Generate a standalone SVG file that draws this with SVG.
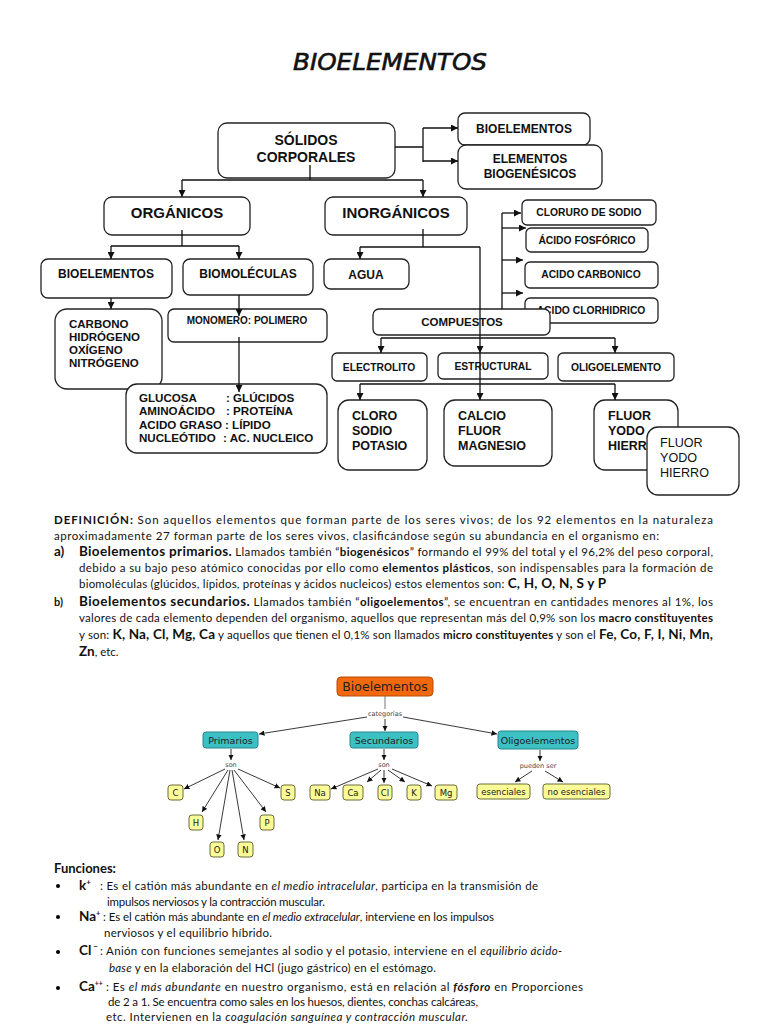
<svg xmlns="http://www.w3.org/2000/svg" width="768" height="1024" viewBox="0 0 768 1024">
<defs>
<style>
.bx{fill:#fff;stroke:#222;stroke-width:1.3}
.t{font-family:"Liberation Sans",Arial,sans-serif;font-weight:bold;fill:#111}
.tr{font-family:"Liberation Sans",Arial,sans-serif;fill:#111}
.c{stroke:#111;stroke-width:1.3;fill:none}
.ca{stroke:#111;stroke-width:1.3;fill:none;marker-end:url(#ah)}
.b{font-family:Lato,"Liberation Sans",sans-serif;font-size:11.5px;fill:#111}
.bb{font-weight:bold}
.big{font-weight:bold;font-size:13.5px}
.it{font-style:italic}
.cm{stroke:#222;stroke-width:0.9;fill:none;marker-end:url(#sa)}
.cl{font-family:"DejaVu Sans",Verdana,sans-serif;font-size:6.5px;fill:#444}
.teal{fill:#3cc0c4;stroke:#25888c;stroke-width:1}
.yel{fill:#fbfb98;stroke:#6d6d3a;stroke-width:1}
.ct{font-family:"DejaVu Sans",Verdana,sans-serif;fill:#222}
</style>
<marker id="ah" viewBox="0 0 10 10" refX="10" refY="5" markerWidth="7" markerHeight="7" orient="auto" markerUnits="userSpaceOnUse"><path d="M0,0 L10,5 L0,10 z" fill="#111"/></marker>
<marker id="sa" viewBox="0 0 10 10" refX="10" refY="5" markerWidth="5.5" markerHeight="5.5" orient="auto" markerUnits="userSpaceOnUse"><path d="M0,0 L10,5 L0,10 z" fill="#111"/></marker>
</defs>
<rect width="768" height="1024" fill="#fff"/>

<text x="390" y="70" text-anchor="middle" font-family="'DejaVu Sans',sans-serif" font-style="italic" font-size="23" fill="#111" stroke="#111" stroke-width="0.6" textLength="194" lengthAdjust="spacingAndGlyphs">BIOELEMENTOS</text>

<g id="n-solidos"><rect class="bx" x="218" y="123" width="177" height="55" rx="9"/><text class="t" font-size="14" x="306" y="145" text-anchor="middle">SÓLIDOS</text><text class="t" font-size="14" x="306" y="162" text-anchor="middle">CORPORALES</text></g>
<g id="n-bioel-r"><rect class="bx" x="458" y="113" width="132" height="32" rx="7"/><text class="t" font-size="12" x="524" y="133" text-anchor="middle">BIOELEMENTOS</text></g>
<g id="n-biogen"><rect class="bx" x="458" y="145" width="144" height="44" rx="8"/><text class="t" font-size="12" x="530" y="163" text-anchor="middle">ELEMENTOS</text><text class="t" font-size="12" x="530" y="178" text-anchor="middle">BIOGENÉSICOS</text></g>
<g id="n-organicos"><rect class="bx" x="104" y="197" width="146" height="38" rx="8"/><text class="t" font-size="15" x="177" y="218" text-anchor="middle">ORGÁNICOS</text></g>
<g id="n-inorganicos"><rect class="bx" x="325" y="197" width="142" height="38" rx="8"/><text class="t" font-size="15" x="396" y="218" text-anchor="middle">INORGÁNICOS</text></g>
<g id="n-bioel-l"><rect class="bx" x="41" y="259" width="131" height="39" rx="7"/><text class="t" font-size="12" x="106" y="278" text-anchor="middle">BIOELEMENTOS</text></g>
<g id="n-biomol"><rect class="bx" x="183" y="259" width="130" height="36" rx="7"/><text class="t" font-size="12" x="248" y="278" text-anchor="middle">BIOMOLÉCULAS</text></g>
<g id="n-agua"><rect class="bx" x="324" y="259" width="85" height="30" rx="7"/><text class="t" font-size="12" x="366" y="279" text-anchor="middle">AGUA</text></g>
<g id="n-cloruro"><rect class="bx" x="522" y="200" width="134" height="25" rx="5"/><text class="t" font-size="10.3" x="589" y="216" text-anchor="middle">CLORURO DE SODIO</text></g>
<g id="n-fosforico"><rect class="bx" x="526" y="228" width="122" height="24" rx="5"/><text class="t" font-size="10.3" x="587" y="244" text-anchor="middle">ÁCIDO FOSFÓRICO</text></g>
<g id="n-carbonico"><rect class="bx" x="525" y="262" width="133" height="26" rx="5"/><text class="t" font-size="10.3" x="591" y="278" text-anchor="middle">ACIDO CARBONICO</text></g>
<g id="n-clorhidrico"><rect class="bx" x="525" y="298" width="133" height="25" rx="5"/><text class="t" font-size="10.3" x="591" y="314" text-anchor="middle">ACIDO CLORHIDRICO</text></g>
<g id="n-compuestos"><rect class="bx" x="373" y="309" width="177" height="26" rx="6"/><text class="t" font-size="11.5" x="462" y="326" text-anchor="middle">COMPUESTOS</text></g>
<g id="n-carbono"><rect class="bx" x="55" y="309" width="107" height="80" rx="12"/><text class="t" font-size="11.5"><tspan x="69" y="328">CARBONO</tspan><tspan x="69" y="341">HIDRÓGENO</tspan><tspan x="69" y="354">OXÍGENO</tspan><tspan x="69" y="367">NITRÓGENO</tspan></text></g>
<g id="n-monomero"><rect class="bx" x="168" y="309" width="159" height="33" rx="6"/><text class="t" font-size="10" x="247" y="324" text-anchor="middle">MONOMERO: POLIMERO</text></g>
<g id="n-glucosa"><rect class="bx" x="126" y="384" width="201" height="69" rx="11"/><text class="t" font-size="11.6"><tspan x="139" y="402">GLUCOSA</tspan><tspan x="139" y="415">AMINOÁCIDO</tspan><tspan x="139" y="429">ACIDO GRASO</tspan><tspan x="139" y="442">NUCLEÓTIDO</tspan></text><text class="t" font-size="11.6"><tspan x="226" y="402">: GLÚCIDOS</tspan><tspan x="226" y="415">: PROTEÍNA</tspan><tspan x="225" y="429">: LÍPIDO</tspan><tspan x="223" y="442">: AC. NUCLEICO</tspan></text></g>
<g id="n-electrolito"><rect class="bx" x="332" y="353" width="95" height="28" rx="5"/><text class="t" font-size="10.3" x="379" y="371" text-anchor="middle">ELECTROLITO</text></g>
<g id="n-estructural"><rect class="bx" x="438" y="353" width="110" height="26" rx="5"/><text class="t" font-size="10.3" x="493" y="370" text-anchor="middle">ESTRUCTURAL</text></g>
<g id="n-oligo"><rect class="bx" x="558" y="353" width="116" height="28" rx="5"/><text class="t" font-size="10.3" x="616" y="371" text-anchor="middle">OLIGOELEMENTO</text></g>
<g id="n-cloro"><rect class="bx" x="338" y="400" width="89" height="70" rx="11"/><text class="t" font-size="12.5"><tspan x="352" y="420">CLORO</tspan><tspan x="352" y="435">SODIO</tspan><tspan x="352" y="450">POTASIO</tspan></text></g>
<g id="n-calcio"><rect class="bx" x="444" y="400" width="108" height="66" rx="11"/><text class="t" font-size="12.5"><tspan x="458" y="420">CALCIO</tspan><tspan x="458" y="435">FLUOR</tspan><tspan x="458" y="450">MAGNESIO</tspan></text></g>
<g id="n-fluor"><rect class="bx" x="594" y="400" width="84" height="70" rx="11"/><text class="t" font-size="12.5"><tspan x="608" y="420">FLUOR</tspan><tspan x="608" y="435">YODO</tspan><tspan x="608" y="450">HIERRO</tspan></text></g>
<g id="n-fluor2"><rect class="bx" x="647" y="427" width="92" height="68" rx="11" stroke-width="1"/><text class="tr" font-size="12.6"><tspan x="660" y="447">FLUOR</tspan><tspan x="660" y="462">YODO</tspan><tspan x="660" y="477">HIERRO</tspan></text></g>

<g id="connectors-top">
<path class="c" d="M310,165 V180 M182,180 H423 M395,147 H423 M423,128 V162 M182,230 V246 M111,246 H239 M423,229 V247 M360,247 H480 M502,213 V309 M381,338 H615 M360,384 H615"/>
<path class="ca" d="M182,180 V197"/><path class="ca" d="M423,180 V197"/>
<path class="ca" d="M423,128 H458"/><path class="ca" d="M423,161 H458"/>
<path class="ca" d="M111,246 V259"/><path class="ca" d="M239,246 V259"/>
<path class="ca" d="M360,247 V259"/>
<path class="ca" d="M480,247 V353"/><path class="ca" d="M480,353 V400"/>
<path class="ca" d="M502,213 H521"/><path class="ca" d="M502,228 H526"/><path class="ca" d="M502,260 H523"/><path class="ca" d="M502,293 H523"/>
<path class="ca" d="M381,338 V353"/><path class="ca" d="M615,338 V353"/>
<path class="ca" d="M360,384 V400"/><path class="ca" d="M615,384 V400"/>
<path class="ca" d="M111,298 V309"/><path class="ca" d="M239,295 V316"/><path class="ca" d="M239,337 V392"/>
</g>

<g id="definicion">
<text class="b" x="54" y="524" textLength="659" lengthAdjust="spacing"><tspan class="bb">DEFINICIÓN:</tspan> Son aquellos elementos que forman parte de los seres vivos; de los 92 elementos en la naturaleza</text>
<text class="b" x="54" y="540" textLength="605" lengthAdjust="spacing">aproximadamente 27 forman parte de los seres vivos, clasificándose según su abundancia en el organismo en:</text>
<text class="b" x="54" y="556"><tspan class="big">a)</tspan></text>
<text class="b" x="79" y="556" textLength="634" lengthAdjust="spacing"><tspan class="big">Bioelementos primarios.</tspan> Llamados también “<tspan class="bb">biogenésicos</tspan>” formando el 99% del total y el 96,2% del peso corporal,</text>
<text class="b" x="79" y="572" textLength="634" lengthAdjust="spacing">debido a su bajo peso atómico conocidas por ello como <tspan class="bb">elementos plásticos</tspan>, son indispensables para la formación de</text>
<text class="b" x="79" y="588" textLength="527" lengthAdjust="spacing">biomoléculas (glúcidos, lípidos, proteínas y ácidos nucleicos) estos elementos son:   <tspan class="big">C, H, O, N, S y P</tspan></text>
<text class="b" x="54" y="606"><tspan class="bb" font-size="11">b)</tspan></text>
<text class="b" x="79" y="606" textLength="634" lengthAdjust="spacing"><tspan class="big">Bioelementos secundarios.</tspan> Llamados también “<tspan class="bb">oligoelementos</tspan>”, se encuentran en cantidades menores al 1%, los</text>
<text class="b" x="79" y="622" textLength="634" lengthAdjust="spacing">valores de cada elemento dependen del organismo, aquellos que representan más del 0,9% son los <tspan class="bb">macro constituyentes</tspan></text>
<text class="b" x="79" y="639" textLength="634" lengthAdjust="spacing">y son: <tspan class="big">K, Na, Cl, Mg, Ca</tspan> y aquellos que tienen el 0,1% son llamados <tspan class="bb">micro constituyentes</tspan> y son el <tspan class="big">Fe, Co, F, I, Ni, Mn,</tspan></text>
<text class="b" x="79" y="656"><tspan class="big">Zn</tspan>, etc.</text>
</g>

<g id="cm-bioelementos"><rect x="337" y="677" width="96" height="19" rx="4" fill="#f2680f" stroke="#b84c05"/><text class="ct" font-size="12.5" x="385" y="691" text-anchor="middle" fill="#3a1a00">Bioelementos</text></g>
<g id="cm-primarios"><rect class="teal" x="203" y="732" width="55" height="16" rx="3"/><text class="ct" font-size="9.5" x="230.5" y="743.5" text-anchor="middle">Primarios</text></g>
<g id="cm-secundarios"><rect class="teal" x="350" y="732" width="68" height="16" rx="3"/><text class="ct" font-size="9.5" x="384" y="743.5" text-anchor="middle">Secundarios</text></g>
<g id="cm-oligo"><rect class="teal" x="498" y="731" width="80" height="18" rx="3"/><text class="ct" font-size="9.5" x="538" y="743.5" text-anchor="middle">Oligoelementos</text></g>
<g id="cm-C"><rect class="yel" x="168" y="785" width="15" height="15" rx="3"/><text class="ct" font-size="8.5" x="175.5" y="795.5" text-anchor="middle">C</text></g>
<g id="cm-S"><rect class="yel" x="281" y="785" width="14" height="15" rx="3"/><text class="ct" font-size="8.5" x="288" y="795.5" text-anchor="middle">S</text></g>
<g id="cm-H"><rect class="yel" x="189" y="815" width="14" height="15" rx="3"/><text class="ct" font-size="8.5" x="196" y="825.5" text-anchor="middle">H</text></g>
<g id="cm-P"><rect class="yel" x="260" y="815" width="14" height="15" rx="3"/><text class="ct" font-size="8.5" x="267" y="825.5" text-anchor="middle">P</text></g>
<g id="cm-O"><rect class="yel" x="210" y="842" width="14" height="15" rx="3"/><text class="ct" font-size="8.5" x="217" y="852.5" text-anchor="middle">O</text></g>
<g id="cm-N"><rect class="yel" x="238" y="842" width="15" height="15" rx="3"/><text class="ct" font-size="8.5" x="245.5" y="852.5" text-anchor="middle">N</text></g>
<g id="cm-Na"><rect class="yel" x="310" y="785" width="20" height="15" rx="3"/><text class="ct" font-size="8.5" x="320" y="795.5" text-anchor="middle">Na</text></g>
<g id="cm-Ca"><rect class="yel" x="343" y="785" width="20" height="15" rx="3"/><text class="ct" font-size="8.5" x="353" y="795.5" text-anchor="middle">Ca</text></g>
<g id="cm-Cl"><rect class="yel" x="378" y="785" width="14" height="15" rx="3"/><text class="ct" font-size="8.5" x="385" y="795.5" text-anchor="middle">Cl</text></g>
<g id="cm-K"><rect class="yel" x="407" y="785" width="14" height="15" rx="3"/><text class="ct" font-size="8.5" x="414" y="795.5" text-anchor="middle">K</text></g>
<g id="cm-Mg"><rect class="yel" x="435" y="785" width="22" height="15" rx="3"/><text class="ct" font-size="8.5" x="446" y="795.5" text-anchor="middle">Mg</text></g>
<g id="cm-esenciales"><rect class="yel" x="477" y="784" width="53" height="15" rx="3"/><text class="ct" font-size="8.5" x="503.5" y="794.5" text-anchor="middle">esenciales</text></g>
<g id="cm-noesenciales"><rect class="yel" x="543" y="784" width="67" height="15" rx="3"/><text class="ct" font-size="8.5" x="576.5" y="794.5" text-anchor="middle">no esenciales</text></g>

<g id="cm-connectors">
<path d="M385,696 V709" stroke="#777" stroke-width="1" fill="none"/>
<text class="cl" x="385" y="716" text-anchor="middle">categorías</text>
<path class="cm" d="M367,717 L259,734"/>
<path class="cm" d="M385,719 V731"/>
<path class="cm" d="M403,717 L497,734"/>
<path class="cm" d="M231,749 V760"/>
<text class="cl" x="231" y="767" text-anchor="middle">son</text>
<path class="cm" d="M384,749 V760"/>
<text class="cl" x="384" y="767" text-anchor="middle">son</text>
<path class="cm" d="M540,750 V761"/>
<text class="cl" x="538" y="768" text-anchor="middle">pueden ser</text>
<path class="cm" d="M225,769 L184,789"/>
<path class="cm" d="M228,770 L202,812"/>
<path class="cm" d="M230,770 L218,840"/>
<path class="cm" d="M232,770 L244,840"/>
<path class="cm" d="M234,770 L266,812"/>
<path class="cm" d="M238,769 L280,788"/>
<path class="cm" d="M378,769 L331,789"/>
<path class="cm" d="M381,770 L367,782"/>
<path class="cm" d="M384,770 V783"/>
<path class="cm" d="M388,770 L405,782"/>
<path class="cm" d="M392,769 L432,786"/>
<path class="cm" d="M532,771 L515,782"/>
<path class="cm" d="M545,771 L563,782"/>
</g>

<g id="funciones">
<text class="b" x="54" y="873" font-size="13"><tspan class="bb" font-size="13">Funciones:</tspan></text>
<circle cx="58" cy="886" r="2"/><circle cx="58" cy="917" r="2"/><circle cx="58" cy="952" r="2"/><circle cx="58" cy="988" r="2"/>
<text class="b" x="79" y="890"><tspan class="big">k</tspan><tspan class="bb" font-size="8" dy="-5">+</tspan></text>
<text class="b" x="100" y="890" textLength="438" lengthAdjust="spacing">: Es el catión más abundante en <tspan class="it">el medio intracelular</tspan>, participa en la transmisión de</text>
<text class="b" x="107" y="906" textLength="218" lengthAdjust="spacing">impulsos nerviosos y la contracción muscular.</text>
<text class="b" x="79" y="921"><tspan class="big">Na</tspan><tspan class="bb" font-size="7.5" dy="-5">+</tspan></text>
<text class="b" x="103" y="921" textLength="391" lengthAdjust="spacing">: Es el catión más abundante en <tspan class="it">el medio extracelular</tspan>, interviene en los impulsos</text>
<text class="b" x="104" y="937" textLength="168" lengthAdjust="spacing">nerviosos y el equilibrio híbrido.</text>
<text class="b" x="79" y="955"><tspan class="big">Cl</tspan><tspan class="bb" font-size="8" dx="2" dy="-6">−</tspan></text>
<text class="b" x="100" y="955" textLength="462" lengthAdjust="spacing">:  Anión con funciones semejantes al sodio y el potasio, interviene en el <tspan class="it">equilibrio ácido-</tspan></text>
<text class="b" x="109" y="972" textLength="327" lengthAdjust="spacing"><tspan class="it">base</tspan> y en la elaboración del HCl (jugo gástrico) en el estómago.</text>
<text class="b" x="79" y="991"><tspan class="big">Ca</tspan><tspan class="bb" font-size="7" dy="-5">++</tspan></text>
<text class="b" x="106" y="991" textLength="477" lengthAdjust="spacing">: Es <tspan class="it">el más abundante</tspan> en nuestro organismo, está en relación al <tspan class="it bb">fósforo</tspan> en Proporciones</text>
<text class="b" x="108" y="1006" textLength="370" lengthAdjust="spacing">de 2 a 1. Se encuentra como sales en los huesos, dientes, conchas calcáreas,</text>
<text class="b" x="106" y="1021" textLength="362" lengthAdjust="spacing">etc. Intervienen en la <tspan class="it">coagulación sanguínea y contracción muscular.</tspan></text>
</g>
</svg>
